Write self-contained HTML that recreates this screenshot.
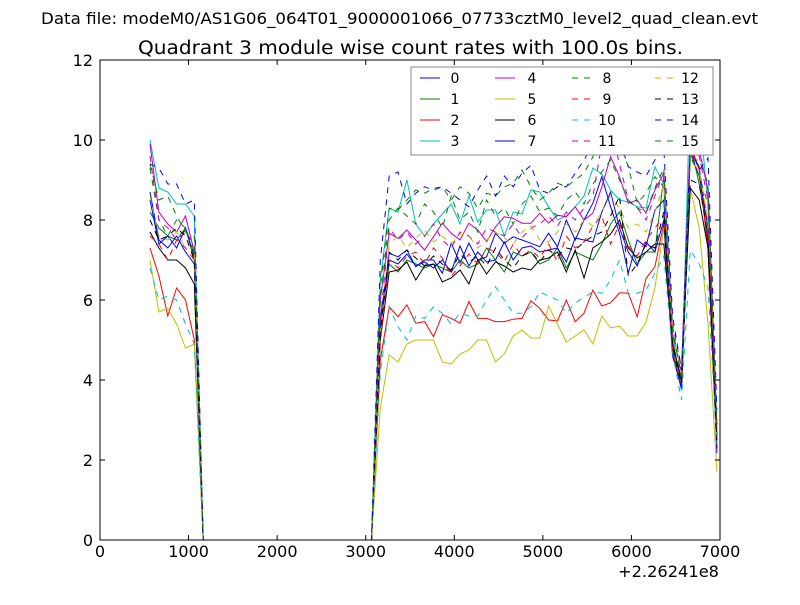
<!DOCTYPE html>
<html><head><meta charset="utf-8"><style>
body{margin:0;background:#fff;}
svg text{font-family:"DejaVu Sans","Liberation Sans",sans-serif;}
</style></head><body>
<svg id="chart" width="800" height="600" xmlns="http://www.w3.org/2000/svg">
<rect width="800" height="600" fill="#fff"/>
<text x="41" y="24" font-size="16" textLength="717" lengthAdjust="spacingAndGlyphs">Data file: modeM0/AS1G06_064T01_9000001066_07733cztM0_level2_quad_clean.evt</text>
<text x="138" y="54" font-size="18.5" textLength="545" lengthAdjust="spacingAndGlyphs">Quadrant 3 module wise count rates with 100.0s bins.</text>
<g id="series"></g>
<rect x="100" y="60" width="620" height="480" fill="none" stroke="#000" stroke-width="1"/>
<g id="axes"></g>
<text x="618" y="577" font-size="16" textLength="101" lengthAdjust="spacingAndGlyphs">+2.26241e8</text>
<g id="legend"></g>
</svg>
<script>
const xTicks=[0,1000,2000,3000,4000,5000,6000,7000];
const yTicks=[0,2,4,6,8,10,12];
const names=["0","1","2","3","4","5","6","7","8","9","10","11","12","13","14","15"];
const seg1Start=565, seg2Start=3165, binWidth=100;
const seg1=[
[8.7,7.5,7.3,7.6,7.2,6.9],
[8.2,7.8,7.6,7.5,7.8,7.0],
[7.3,6.6,5.6,6.3,6.0,5.0],
[10.0,8.8,8.7,8.4,8.4,8.1],
[9.9,8.2,7.9,7.7,8.1,7.2],
[7.0,5.7,5.8,5.4,4.8,4.9],
[7.7,7.3,7.0,7.0,6.8,6.4],
[8.5,7.4,7.6,7.3,7.8,7.1],
[9.3,8.0,7.6,8.0,7.8,7.2],
[7.6,7.4,7.0,7.5,7.3,7.0],
[6.8,6.0,6.1,6.0,5.4,4.9],
[9.6,8.0,7.8,7.5,7.7,7.4],
[8.6,7.6,7.5,7.7,7.3,7.3],
[8.0,7.5,7.6,7.8,7.6,7.0],
[9.4,9.3,8.9,8.9,8.4,8.5],
[9.4,8.5,8.6,8.1,7.7,7.6]];
const seg2=[
[5.5,7.17,7.08,7.25,6.83,7.0,7.0,6.67,7.42,6.92,
 7.42,7.0,7.08,7.67,7.42,7.58,7.5,7.42,7.33,7.67,
 7.33,8.0,7.5,8.0,8.42,9.08,8.33,7.67,6.67,7.5,
 7.33,8.25,8.5,4.75,3.75,9.75,9.33,7.33,2.17],
[5.4,6.9,6.7,7.0,6.9,6.8,6.9,6.8,6.7,7.0,
 6.8,6.9,7.3,7.0,6.7,7.2,7.1,7.2,6.9,7.0,
 7.3,6.8,7.2,7.1,7.0,7.4,7.9,8.2,7.5,6.9,
 7.2,7.2,9.1,4.9,3.9,9.9,8.9,7.6,2.6],
[4.5,5.83,5.58,5.88,5.42,5.46,5.08,5.63,5.54,5.42,
 5.96,5.54,5.54,5.46,5.46,5.52,5.54,5.98,5.79,5.5,
 5.48,6.0,5.46,5.67,6.25,5.85,5.93,6.18,6.17,5.58,
 6.54,6.83,7.92,4.6,3.9,9.9,9.25,7.25,2.25],
[6.5,8.3,8.2,9.0,7.9,7.6,7.9,8.15,8.4,7.9,
 8.6,7.95,8.25,8.25,7.6,8.2,8.15,8.75,8.7,8.33,
 8.0,8.1,8.33,8.6,9.3,9.15,8.75,8.5,8.45,8.33,
 8.3,9.33,8.9,5.1,3.75,11.45,10.75,8.4,2.5],
[6.0,7.67,7.54,7.75,7.5,7.25,7.58,7.92,7.67,7.5,
 7.92,7.75,7.46,7.83,8.08,8.04,7.92,7.92,8.17,7.92,
 8.12,8.08,8.33,8.0,8.17,8.83,9.58,9.08,8.42,8.5,
 8.17,8.75,9.17,5.17,4.17,10.0,9.75,8.75,2.83],
[3.3,4.63,4.45,4.9,5.0,5.0,5.0,4.45,4.4,4.65,
 4.75,5.0,5.0,4.45,4.65,5.1,5.25,5.05,5.05,5.85,
 5.4,4.95,5.1,5.25,4.9,5.6,5.3,5.35,5.1,5.1,
 5.45,6.3,7.8,4.8,4.1,8.8,7.8,5.4,1.7],
[5.0,6.7,6.75,6.95,6.5,6.85,6.9,6.45,6.55,6.75,
 6.4,7.0,6.65,6.95,6.85,6.7,6.8,6.75,7.0,7.05,
 7.2,6.7,7.25,6.55,7.3,7.45,7.65,8.0,7.3,7.05,
 7.2,7.4,7.4,4.9,4.0,8.8,8.5,7.3,2.6],
[5.3,7.0,6.9,7.15,6.85,6.95,6.8,7.0,6.7,7.35,
 6.85,7.2,6.95,7.0,7.45,7.0,7.3,7.35,7.2,7.25,
 7.3,6.95,7.55,7.5,7.45,8.2,8.7,7.8,7.2,6.85,
 7.45,7.2,8.0,4.6,3.8,9.7,9.1,7.8,2.3],
[6.3,8.29,8.25,8.5,8.75,8.67,8.79,8.83,8.5,8.83,
 8.67,8.29,8.67,8.6,8.83,8.92,9.25,8.83,8.5,8.67,
 8.92,8.83,9.0,9.17,9.58,10.25,10.42,9.92,9.33,8.42,
 8.67,9.08,8.83,5.33,4.0,9.5,9.5,8.92,2.83],
[5.0,7.0,6.8,7.1,7.2,6.9,7.3,7.05,6.6,6.85,
 7.15,6.9,7.3,7.2,6.95,7.4,7.1,7.25,7.05,7.4,
 6.95,7.6,7.3,7.45,7.85,8.1,7.4,7.9,7.35,7.1,
 7.5,7.8,8.1,4.7,3.9,9.7,9.3,7.9,2.6],
[4.2,5.83,5.33,5.0,5.6,5.54,5.83,5.67,5.4,5.67,
 5.6,5.6,6.0,6.33,6.0,5.67,5.67,5.83,6.2,6.1,
 6.0,5.67,5.92,6.08,6.2,6.17,6.5,7.0,6.17,6.17,
 6.25,6.67,7.1,4.67,3.5,7.25,6.9,6.33,2.4],
[5.5,7.8,7.5,7.7,7.4,7.6,7.9,7.5,7.3,7.7,
 7.6,7.4,7.8,7.7,7.6,7.9,7.55,7.8,7.9,8.1,
 7.85,8.2,8.0,8.3,8.6,9.9,10.3,9.4,8.5,8.3,
 8.0,8.6,9.2,5.4,4.3,10.1,9.6,8.5,3.0],
[5.2,7.4,7.6,7.3,7.55,7.75,7.45,7.6,7.4,7.65,
 7.6,7.3,7.5,7.7,7.55,7.4,7.7,7.85,7.5,7.45,
 7.7,7.9,7.7,8.0,7.85,8.2,8.6,8.3,7.8,7.9,
 7.7,8.2,8.9,5.2,4.2,9.6,9.2,8.0,2.7],
[5.2,7.2,7.0,7.25,7.05,6.85,7.1,6.9,6.75,7.15,
 6.95,7.1,6.85,7.3,7.0,6.8,7.1,7.2,6.95,7.25,
 7.1,7.3,7.25,7.45,7.6,7.7,8.1,8.6,6.6,6.9,
 7.4,7.3,8.2,4.8,3.9,9.0,8.9,7.6,2.5],
[7.0,9.1,9.2,8.4,8.67,8.83,8.75,8.83,8.67,8.5,
 8.33,8.75,9.1,8.6,9.1,8.83,9.17,9.37,8.75,8.67,
 8.83,8.83,9.17,9.5,9.9,10.25,10.33,10.0,9.33,9.2,
 9.1,9.5,9.8,5.6,4.25,9.83,9.25,9.55,3.25],
[6.0,8.0,8.3,8.1,7.9,8.4,8.2,7.8,8.6,8.0,
 8.2,7.7,8.5,8.1,8.3,7.9,8.4,8.6,8.2,8.3,
 8.1,8.5,8.7,8.4,8.9,9.2,9.5,9.0,8.5,8.3,
 8.2,8.8,9.3,5.2,4.1,9.6,9.1,8.4,2.9]];

const colors=["#0000ff","#008000","#ff0000","#00bfbf","#bf00bf","#bfbf00","#000000"];
const NS="http://www.w3.org/2000/svg";
const X0=100,X1=720,Y0=540,Y1=60;
function sx(v){return X0+(v-0)/(7000-0)*(X1-X0);}
function sy(v){return Y0-(v-0)/(12-0)*(Y0-Y1);}
function mk(tag,attrs,parent){const e=document.createElementNS(NS,tag);for(const k in attrs)e.setAttribute(k,attrs[k]);parent.appendChild(e);return e;}

const g=document.getElementById('series');
for(let s=0;s<names.length;s++){
  const pts=[];
  seg1[s].forEach((v,i)=>pts.push([seg1Start+binWidth*i,v]));
  pts.push([seg1Start+binWidth*seg1[s].length,0]);
  pts.push([seg2Start-binWidth,0]);
  seg2[s].forEach((v,i)=>pts.push([seg2Start+binWidth*i,v]));
  const d=pts.map((p,i)=>(i?'L':'M')+sx(p[0]).toFixed(1)+','+sy(p[1]).toFixed(1)).join(' ');
  const p=mk('path',{d:d,fill:'none',stroke:colors[s%7],'stroke-width':1},g);
  if(s>=8)p.setAttribute('stroke-dasharray','6,6');
  
  
}

const ax=document.getElementById('axes');
xTicks.forEach(t=>{
  const x=sx(t);
  const l1=mk('line',{x1:x,x2:x,y1:Y0,y2:Y0-5,stroke:'#000'},ax);
  
  
  const l2=mk('line',{x1:x,x2:x,y1:Y1,y2:Y1+5,stroke:'#000'},ax);
  
  
  const tx=mk('text',{x:x,y:Y0+17,'font-size':16,'text-anchor':'middle'},ax);
  tx.textContent=t;
  
  
});
yTicks.forEach(t=>{
  const y=sy(t);
  const l1=mk('line',{x1:X0,x2:X0+5,y1:y,y2:y,stroke:'#000'},ax);
  
  
  const l2=mk('line',{x1:X1,x2:X1-5,y1:y,y2:y,stroke:'#000'},ax);
  
  
  const tx=mk('text',{x:X0-7,y:y+6,'font-size':16,'text-anchor':'end'},ax);
  tx.textContent=t;
  
  
});

const lg=document.getElementById('legend');
const box=mk('rect',{x:411,y:67,width:302,height:88,fill:'#fff',stroke:'#888','stroke-width':1},lg);


const colLine=[420,495,572,655], colText=[455,532,607,690], rowY=[78,99,120,141];
for(let s=0;s<names.length;s++){
  const c=Math.floor(s/4), r=s%4;
  const gg=mk('g',{},lg);
  
  
  const l=mk('line',{x1:colLine[c],x2:colLine[c]+20,y1:rowY[r],y2:rowY[r],stroke:colors[s%7],'stroke-width':1},gg);
  if(s>=8)l.setAttribute('stroke-dasharray','6,6');
  const t=mk('text',{x:colText[c],y:rowY[r]+5,'font-size':14,'text-anchor':'middle'},gg);
  t.textContent=names[s];
}
</script>
</body></html>
